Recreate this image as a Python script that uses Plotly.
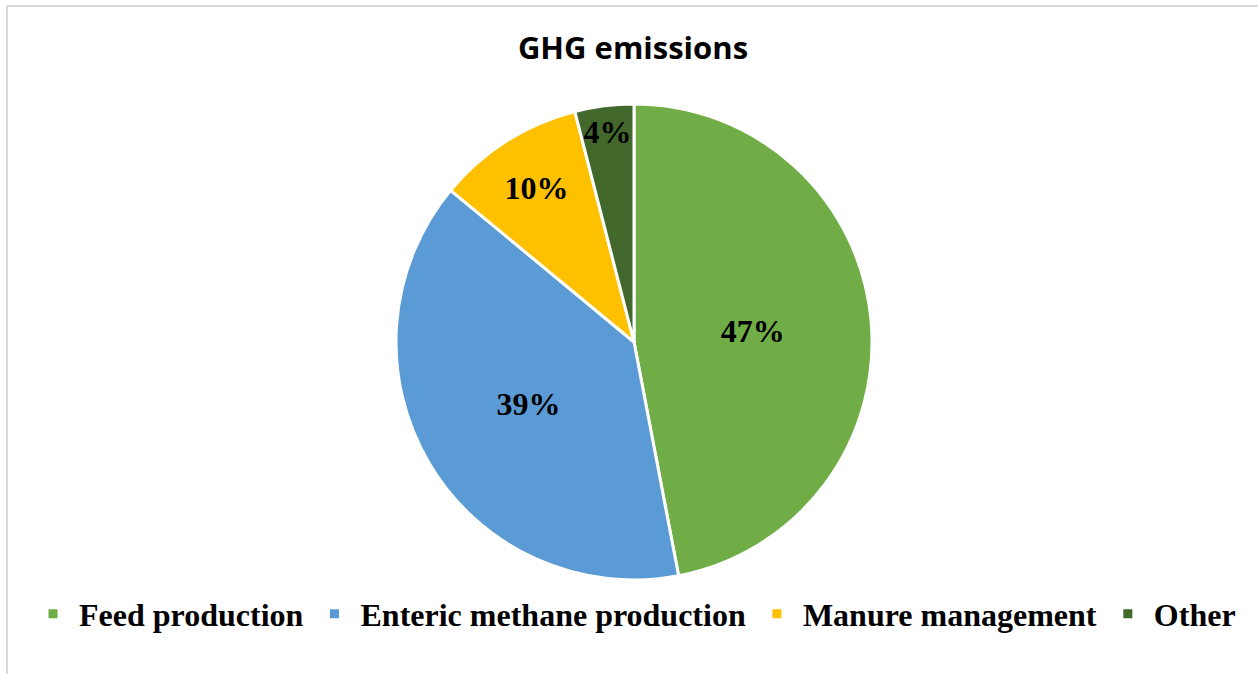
import plotly.graph_objects as go

# Share of greenhouse-gas emissions by source (%)
categories = ["Feed production", "Enteric methane production", "Manure management", "Other"]
shares = [47, 39, 10, 4]
colors = ["#70AD47", "#5B9BD5", "#FFC000", "#43682B"]

W, H = 1258, 674

fig = go.Figure(
    go.Pie(
        labels=categories,
        values=shares,
        sort=False,
        direction="clockwise",
        rotation=0,
        marker=dict(colors=colors, line=dict(color="white", width=3)),
        textinfo="percent",
        texttemplate="%{percent:.0%}",
        textposition="inside",
        insidetextorientation="horizontal",
        textfont=dict(family="Liberation Serif", size=32, color="black", weight="bold"),
        hoverinfo="label+percent",
    )
)

# thin grey frame around the chart area
fig.add_shape(type="line", xref="paper", yref="paper",
              x0=-3 / 1248, x1=1.05, y0=(580 - 6) / 476, y1=(580 - 6) / 476,
              line=dict(color="#D9D9D9", width=2))
fig.add_shape(type="line", xref="paper", yref="paper",
              x0=-3 / 1248, x1=-3 / 1248, y0=(580 - 6) / 476, y1=-0.3,
              line=dict(color="#D9D9D9", width=2))

fig.update_layout(
    width=W,
    height=H,
    margin=dict(l=10, r=0, t=104, b=94),
    paper_bgcolor="white",
    plot_bgcolor="white",
    uniformtext=dict(minsize=32, mode="show"),
    title=dict(
        text="<b>GHG emissions</b>",
        x=633 / W,
        xanchor="center",
        y=1 - 48 / H,
        yanchor="middle",
        font=dict(family="Open Sans", size=31, color="black"),
    ),
    showlegend=True,
    legend=dict(
        orientation="h",
        x=(634 - 10) / 1248,
        xanchor="center",
        y=(580 - 614) / 476,
        yanchor="middle",
        itemwidth=42,
        font=dict(family="Liberation Serif", size=32, color="black", weight="bold"),
        traceorder="normal",
    ),
)

fig.write_html("out.html")
